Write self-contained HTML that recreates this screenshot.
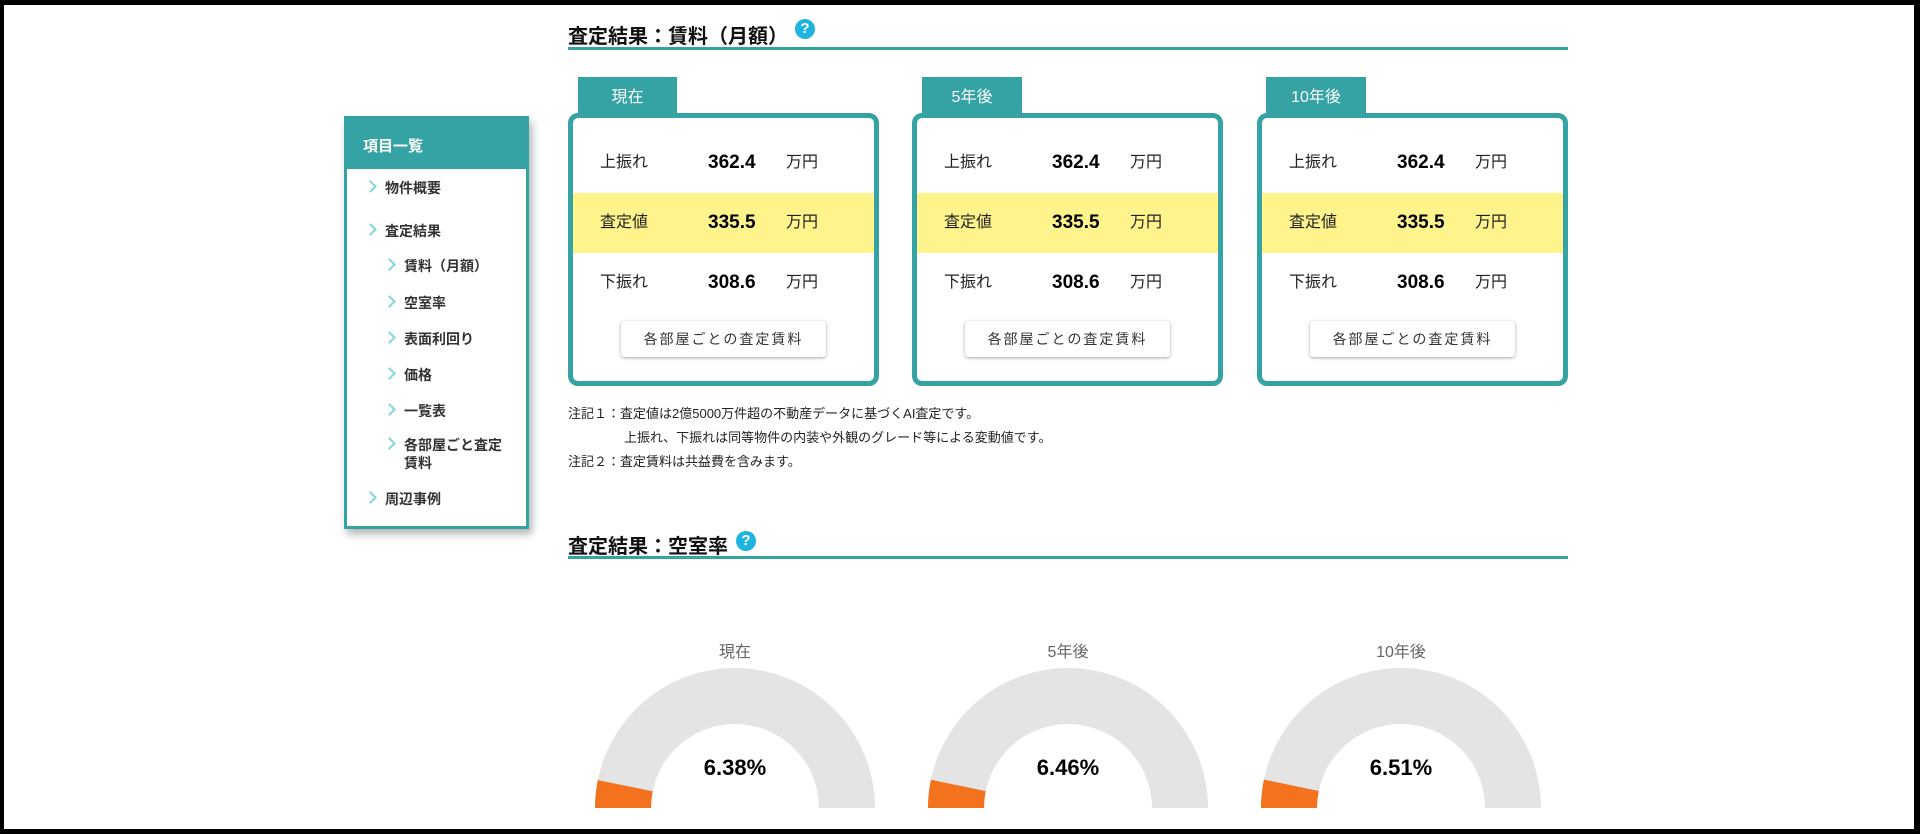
<!DOCTYPE html>
<html><head><meta charset="utf-8"><style>
*{margin:0;padding:0;box-sizing:border-box}
body{width:1920px;height:834px;overflow:hidden;background:#fff;font-family:"Liberation Sans","Noto Sans CJK JP",sans-serif;color:#222;position:relative}
.frame{position:absolute;left:0;top:0;width:1920px;height:834px;border-top:5px solid #000;border-bottom:5px solid #000;border-left:4px solid #000;border-right:6px solid #000;pointer-events:none;z-index:10}
.abs{position:absolute}
.title{font-size:20px;font-weight:bold;color:#111;white-space:nowrap}
.uline{height:3px;background:#35a3a3}
.q{width:20px;height:20px;border-radius:50%;background:#1fb4e0;color:#fff;font-size:15px;font-weight:bold;text-align:center;line-height:20px}
.side{left:344px;top:116px;width:185px;height:413px;border:3px solid #35a3a3;background:#fff;box-shadow:3px 5px 8px rgba(0,0,0,.3)}
.sidehead{position:absolute;left:0;top:0;width:179px;height:50px;background:#35a3a3;color:#fff;font-weight:bold;font-size:15px;padding:16px 0 0 16px}
.si{position:absolute;font-size:14px;font-weight:bold;color:#333;line-height:18px}
.si:before{content:"";position:absolute;left:-19px;top:3px;width:7px;height:7px;border-right:2px solid #7fd6dc;border-top:2px solid #7fd6dc;transform:rotate(45deg)}
.tab{background:#35a3a3;color:#fff;font-size:16px;text-align:center;line-height:42px;height:36px;top:77px}
.card{top:113px;width:311px;height:273px;border:5px solid #35a3a3;border-radius:10px;background:#fff}
.row{position:absolute;left:0;width:301px;height:60px}
.row.mid{background:#fff48c}
.row span{position:absolute;top:0;line-height:60px}
.lab{left:27px;font-size:16px}
.num{left:135px;font-size:19px;font-weight:bold;color:#000}
.unit{left:213px;font-size:16px}
.btn{position:absolute;left:48px;top:203px;width:205px;height:36px;border-radius:3px;background:#fff;box-shadow:0 1px 3px rgba(0,0,0,.35);font-size:14px;letter-spacing:2px;text-align:center;line-height:36px;color:#333}
.note{font-size:13px;color:#222;white-space:nowrap;line-height:16px}
</style></head><body>
<div class="frame"></div>

<div class="abs title" style="left:568px;top:20px">査定結果：賃料（月額）</div>
<div class="abs q" style="left:795px;top:19px">?</div>
<div class="abs uline" style="left:568px;top:47px;width:1000px"></div>

<div class="abs side">
<div class="sidehead">項目一覧</div>
<div class="si" style="left:38px;top:60px">物件概要</div>
<div class="si" style="left:38px;top:103px">査定結果</div>
<div class="si" style="left:57px;top:138px">賃料（月額）</div>
<div class="si" style="left:57px;top:175px">空室率</div>
<div class="si" style="left:57px;top:211px">表面利回り</div>
<div class="si" style="left:57px;top:247px">価格</div>
<div class="si" style="left:57px;top:283px">一覧表</div>
<div class="si" style="left:57px;top:317px;width:104px">各部屋ごと査定賃料</div>
<div class="si" style="left:38px;top:371px">周辺事例</div>
</div>

<div class="abs tab" style="left:578px;width:99px">現在</div>
<div class="abs card" style="left:568px">
<div class="row" style="top:15px"><span class="lab">上振れ</span><span class="num">362.4</span><span class="unit">万円</span></div>
<div class="row mid" style="top:75px"><span class="lab">査定値</span><span class="num">335.5</span><span class="unit">万円</span></div>
<div class="row" style="top:135px"><span class="lab">下振れ</span><span class="num">308.6</span><span class="unit">万円</span></div>
<div class="btn">各部屋ごとの査定賃料</div>
</div>

<div class="abs tab" style="left:922px;width:100px">5年後</div>
<div class="abs card" style="left:912px">
<div class="row" style="top:15px"><span class="lab">上振れ</span><span class="num">362.4</span><span class="unit">万円</span></div>
<div class="row mid" style="top:75px"><span class="lab">査定値</span><span class="num">335.5</span><span class="unit">万円</span></div>
<div class="row" style="top:135px"><span class="lab">下振れ</span><span class="num">308.6</span><span class="unit">万円</span></div>
<div class="btn">各部屋ごとの査定賃料</div>
</div>

<div class="abs tab" style="left:1266px;width:100px">10年後</div>
<div class="abs card" style="left:1257px">
<div class="row" style="top:15px"><span class="lab">上振れ</span><span class="num">362.4</span><span class="unit">万円</span></div>
<div class="row mid" style="top:75px"><span class="lab">査定値</span><span class="num">335.5</span><span class="unit">万円</span></div>
<div class="row" style="top:135px"><span class="lab">下振れ</span><span class="num">308.6</span><span class="unit">万円</span></div>
<div class="btn">各部屋ごとの査定賃料</div>
</div>

<div class="abs note" style="left:568px;top:406px">注記１：査定値は2億5000万件超の不動産データに基づくAI査定です。</div>
<div class="abs note" style="left:624px;top:430px">上振れ、下振れは同等物件の内装や外観のグレード等による変動値です。</div>
<div class="abs note" style="left:568px;top:454px">注記２：査定賃料は共益費を含みます。</div>

<div class="abs title" style="left:568px;top:530px">査定結果：空室率</div>
<div class="abs q" style="left:736px;top:531px">?</div>
<div class="abs uline" style="left:568px;top:556px;width:1000px"></div>

<svg class="abs" style="left:0;top:0" width="1920" height="834" id="gsvg"></svg>
<script>
const periods=["現在","5年後","10年後"];
const vacancyRates=[6.38,6.46,6.51];
const gaugeMax=100;
const svg=document.getElementById('gsvg');
const NS="http://www.w3.org/2000/svg";
const cxs=[735,1068,1401], cy=808, R=140, r=84;
let cx0=0;
function pt(rad,a){return [cx0+rad*Math.cos(a), cy-rad*Math.sin(a)];}
function arc(a0,a1,fill,name){
  const p1=pt(R,a0),p2=pt(R,a1),p3=pt(r,a1),p4=pt(r,a0);
  const large=Math.abs(a1-a0)>Math.PI?1:0;
  const d=`M${p1[0]},${p1[1]} A${R},${R} 0 ${large} 1 ${p2[0]},${p2[1]} L${p3[0]},${p3[1]} A${r},${r} 0 ${large} 0 ${p4[0]},${p4[1]} Z`;
  const p=document.createElementNS(NS,'path');
  p.setAttribute('d',d);p.setAttribute('fill',fill);
  
  
  svg.appendChild(p);
}
periods.forEach((lab,i)=>{
  cx0=cxs[i];
  const v=vacancyRates[i];
  const a=Math.PI*(1-v/gaugeMax);
  arc(Math.PI,0,'#e4e4e4','gauge-track');
  arc(Math.PI,a,'#f4711e','gauge-value');
  const t=document.createElementNS(NS,'text');
  t.setAttribute('x',cx0);t.setAttribute('y',657);t.setAttribute('text-anchor','middle');
  t.setAttribute('font-size','16');t.setAttribute('fill','#666');
  t.setAttribute('font-family','"Liberation Sans","Noto Sans CJK JP",sans-serif');
  t.textContent=lab;
  
  
  svg.appendChild(t);
  const n=document.createElementNS(NS,'text');
  n.setAttribute('x',cx0);n.setAttribute('y',775);n.setAttribute('text-anchor','middle');
  n.setAttribute('font-size','22');n.setAttribute('font-weight','bold');n.setAttribute('fill','#000');
  n.setAttribute('font-family','"Liberation Sans",sans-serif');
  n.textContent=v.toFixed(2)+'%';
  
  
  svg.appendChild(n);
});
</script>
</body></html>
